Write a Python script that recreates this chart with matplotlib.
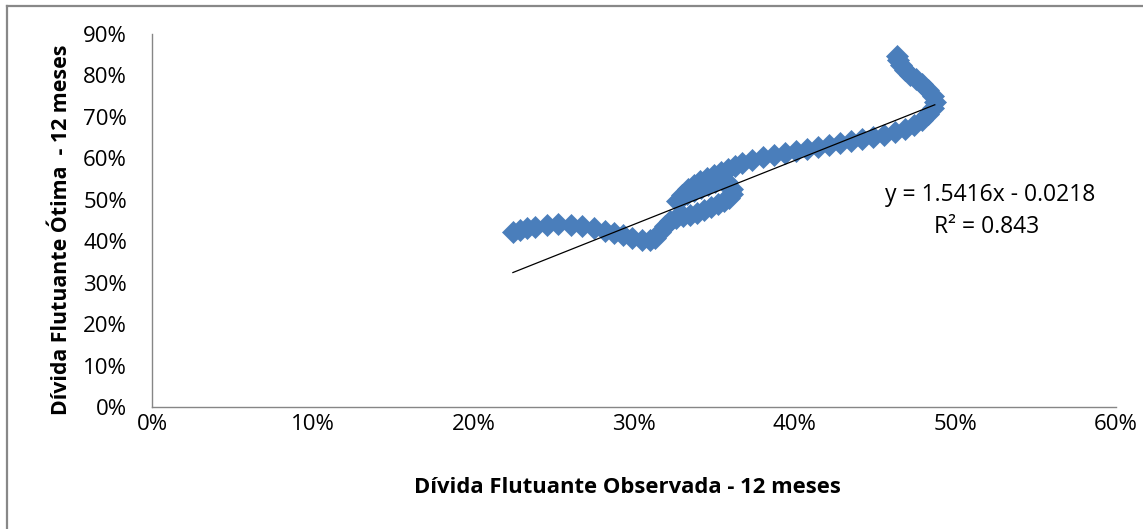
import matplotlib.pyplot as plt
from matplotlib.lines import Line2D
from matplotlib.ticker import PercentFormatter

plt.rcParams['font.family'] = ['Open Sans', 'DejaVu Sans']

# observed vs optimal floating debt share, 12-month window
observada = [
    0.2246, 0.2290, 0.2334, 0.2383, 0.2458, 0.2526, 0.2607, 0.2676,
    0.2750, 0.2819, 0.2875, 0.2931, 0.2987, 0.3049, 0.3099, 0.3130,
    0.3161, 0.3192, 0.3223, 0.3261, 0.3304, 0.3348, 0.3391, 0.3435,
    0.3479, 0.3522, 0.3559, 0.3591, 0.3609, 0.3609, 0.3578,
    0.3547, 0.3503, 0.3460, 0.3416, 0.3373, 0.3329, 0.3292, 0.3267,
    0.3298, 0.3335, 0.3373, 0.3410, 0.3454, 0.3497, 0.3541, 0.3584,
    0.3628, 0.3671,
    0.3734, 0.3802, 0.3871, 0.3939, 0.4007, 0.4076, 0.4144, 0.4213,
    0.4281, 0.4350, 0.4418, 0.4487, 0.4555, 0.4624, 0.4686, 0.4742,
    0.4792, 0.4829, 0.4860, 0.4872, 0.4860, 0.4829, 0.4792, 0.4754,
    0.4717, 0.4686, 0.4661, 0.4642, 0.4636,
]
otima = [
    0.4227, 0.4275, 0.4324, 0.4348, 0.4396, 0.4420, 0.4396, 0.4372,
    0.4324, 0.4251, 0.4203, 0.4155, 0.4082, 0.4034, 0.4034, 0.4082,
    0.4227, 0.4372, 0.4493, 0.4565, 0.4614, 0.4638, 0.4686, 0.4758,
    0.4831, 0.4903, 0.4976, 0.5048, 0.5145, 0.5266, 0.5435,
    0.5483, 0.5435, 0.5362, 0.5290, 0.5217, 0.5145, 0.5048, 0.4976,
    0.5121, 0.5266, 0.5362, 0.5459, 0.5531, 0.5604, 0.5676, 0.5749,
    0.5821, 0.5894,
    0.5966, 0.6039, 0.6087, 0.6135, 0.6184, 0.6232, 0.6280, 0.6329,
    0.6377, 0.6425, 0.6473, 0.6522, 0.6570, 0.6643, 0.6715, 0.6812,
    0.6932, 0.7077, 0.7222, 0.7367, 0.7512, 0.7657, 0.7802, 0.7923,
    0.8019, 0.8140, 0.8261, 0.8382, 0.8478,
]

# linear trend reported on the chart
slope = 1.5416
intercept = -0.0218
r2 = 0.843

x_ticks = [0.0, 0.1, 0.2, 0.3, 0.4, 0.5, 0.6]
y_ticks = [0.0, 0.1, 0.2, 0.3, 0.4, 0.5, 0.6, 0.7, 0.8, 0.9]

fig = plt.figure(figsize=(11.43, 5.29), dpi=100)
ax = fig.add_axes([0.1330, 0.2306, 0.8434, 0.7051])

ax.plot(observada, otima, linestyle='none', marker='D', markersize=10.8,
        color='#4a7ebb', markeredgecolor='#4a7ebb', markeredgewidth=0.5,
        zorder=2)

x0, x1 = min(observada), max(observada)
ax.plot([x0, x1], [slope * x0 + intercept, slope * x1 + intercept],
        color='black', linewidth=0.9, zorder=3)

ax.text(0.5215, 0.5105, 'y = %.4fx - %.4f' % (slope, -intercept),
        ha='center', va='center', fontsize=16.5)
ax.text(0.5195, 0.4335, 'R² = %.3f' % r2, ha='center', va='center',
        fontsize=16.5)

ax.set_xlim(0, 0.6)
ax.set_ylim(0, 0.9)
ax.set_xticks(x_ticks)
ax.set_yticks(y_ticks)
ax.xaxis.set_major_formatter(PercentFormatter(1.0, decimals=0))
ax.yaxis.set_major_formatter(PercentFormatter(1.0, decimals=0))
ax.tick_params(axis='both', length=0, labelsize=16)
ax.tick_params(axis='y', pad=18)
ax.tick_params(axis='x', pad=5)

for side in ('top', 'right'):
    ax.spines[side].set_visible(False)
for side in ('left', 'bottom'):
    ax.spines[side].set_color('#868686')
    ax.spines[side].set_linewidth(1.0)

ax.set_xlabel('Dívida Flutuante Observada - 12 meses', fontsize=15.8,
              fontweight='bold')
ax.set_ylabel('Dívida Flutuante Ótima  - 12 meses', fontsize=15.4,
              fontweight='bold')
ax.xaxis.set_label_coords(0.4927, -0.2145)
ax.xaxis.label.set_va('center')
ax.yaxis.set_label_coords(-0.0934, 0.475)
ax.yaxis.label.set_va('center')

# chart frame, left and top edges
fig.add_artist(Line2D([0.0061, 1.0], [0.9896, 0.9896], color='#888888',
                      linewidth=1.6))
fig.add_artist(Line2D([0.0061, 0.0061], [0.0, 0.9896], color='#888888',
                      linewidth=1.6))

fig.savefig('out.png', dpi=100)
